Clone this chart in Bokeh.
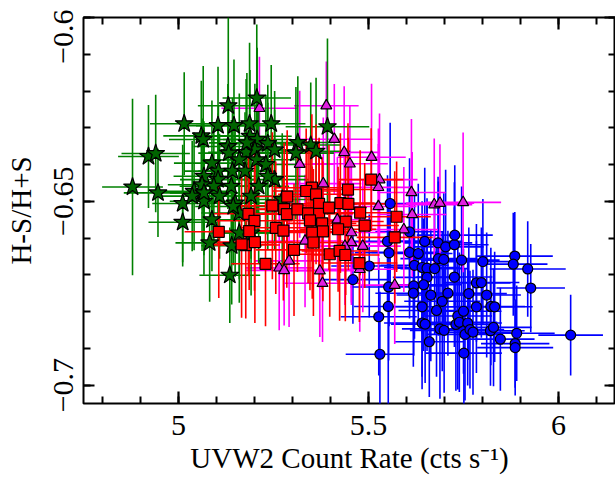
import math
from bokeh.plotting import figure
from bokeh.models import Range1d, FixedTicker, LinearAxis, ColumnDataSource
from bokeh.embed import file_html
from bokeh.resources import INLINE

# ---------------- data ----------------
green_x = [5.206, 5.131, 5.015, 5.104, 5.146, 5.187, 5.244, 5.060, 5.065, 5.130,
           5.188, 5.207, 5.235, 5.314, 5.348, 5.362, 5.392, 4.921, 4.940, 4.879,
           4.946, 5.011, 5.011, 5.041, 5.067, 5.088, 5.105, 5.067, 5.088, 5.082,
           5.135, 5.178, 5.201, 5.132, 5.104, 5.142, 5.175, 5.206, 5.230, 5.139,
           5.093, 5.149, 5.160, 5.191, 5.211, 5.253, 5.273, 5.191, 5.160, 5.144,
           5.062, 5.108, 5.235, 5.160, 5.036, 5.067, 5.180, 5.253, 5.309, 5.140]
green_y = [-0.6219, -0.6240, -0.6289, -0.6294, -0.6294, -0.6289, -0.6289, -0.6322, -0.6332, -0.6351,
           -0.6323, -0.6332, -0.6343, -0.6340, -0.6347, -0.6364, -0.6297, -0.6378, -0.6370, -0.6461,
           -0.6477, -0.6506, -0.6557, -0.6473, -0.6432, -0.6396, -0.6418, -0.6500, -0.6550, -0.6613,
           -0.6701, -0.6367, -0.6360, -0.6369, -0.6441, -0.6418, -0.6418, -0.6387, -0.6400, -0.6459,
           -0.6459, -0.6505, -0.6532, -0.6486, -0.6459, -0.6441, -0.6495, -0.6586, -0.6586, -0.6514,
           -0.6455, -0.6486, -0.6432, -0.6387, -0.6486, -0.6477, -0.6341, -0.6360, -0.6369, -0.6621]
green_xerr = [0.09, 0.08, 0.09, 0.08, 0.10, 0.08, 0.09, 0.10, 0.09, 0.09,
              0.11, 0.09, 0.10, 0.09, 0.08, 0.09, 0.11, 0.08, 0.09, 0.08,
              0.09, 0.08, 0.09, 0.10, 0.08, 0.10, 0.09, 0.09, 0.10, 0.09,
              0.08, 0.10, 0.09, 0.08, 0.10, 0.09, 0.08, 0.10, 0.09, 0.10,
              0.09, 0.08, 0.10, 0.09, 0.08, 0.09, 0.10, 0.09, 0.08, 0.10,
              0.09, 0.09, 0.10, 0.09, 0.08, 0.09, 0.10, 0.09, 0.10, 0.08]
green_yerr = [0.020, 0.024, 0.014, 0.016, 0.018, 0.022, 0.016, 0.015, 0.020, 0.017,
              0.018, 0.025, 0.016, 0.018, 0.017, 0.020, 0.024, 0.014, 0.016, 0.024,
              0.012, 0.016, 0.012, 0.016, 0.015, 0.017, 0.018, 0.020, 0.014, 0.016,
              0.013, 0.020, 0.018, 0.015, 0.018, 0.020, 0.016, 0.017, 0.019, 0.018,
              0.016, 0.020, 0.018, 0.017, 0.021, 0.019, 0.018, 0.017, 0.019, 0.016,
              0.018, 0.017, 0.020, 0.018, 0.015, 0.017, 0.019, 0.016, 0.018, 0.016]

magenta_x = [5.389, 5.410, 5.436, 5.451, 5.508, 5.529, 5.526, 5.526, 5.613, 5.673,
             5.688, 5.749, 5.615, 5.381, 5.319, 5.213, 5.265, 5.278, 5.372, 5.379,
             5.291, 5.477, 5.455, 5.455, 5.569, 5.333, 5.418, 5.485, 5.593, 5.438]
magenta_y = [-0.6240, -0.6331, -0.6367, -0.6398, -0.6380, -0.6441, -0.6462, -0.6514, -0.6476, -0.6509,
             -0.6505, -0.6503, -0.6536, -0.6452, -0.6399, -0.6247, -0.6681, -0.6688, -0.6689, -0.6723,
             -0.6662, -0.6685, -0.6585, -0.6612, -0.6728, -0.6608, -0.6550, -0.6622, -0.6577, -0.6622]
magenta_xerr = [0.085, 0.10, 0.09, 0.10, 0.09, 0.10, 0.09, 0.10, 0.09, 0.10,
                0.09, 0.10, 0.09, 0.10, 0.09, 0.10, 0.09, 0.10, 0.09, 0.10,
                0.09, 0.10, 0.09, 0.10, 0.09, 0.10, 0.09, 0.10, 0.09, 0.10]
magenta_yerr = [0.012, 0.015, 0.018, 0.016, 0.020, 0.018, 0.016, 0.017, 0.020, 0.018,
                0.016, 0.019, 0.017, 0.018, 0.020, 0.014, 0.017, 0.015, 0.018, 0.016,
                0.018, 0.017, 0.019, 0.017, 0.016, 0.018, 0.017, 0.018, 0.017, 0.016]

red_x = [5.507, 5.446, 5.351, 5.336, 5.362, 5.286, 5.247, 5.184, 5.200, 5.106,
         5.186, 5.177, 5.201, 5.229, 5.256, 5.276, 5.278, 5.285, 5.313, 5.341,
         5.370, 5.370, 5.396, 5.426, 5.447, 5.478, 5.346, 5.378, 5.440, 5.490,
         5.352, 5.380, 5.420, 5.355, 5.304, 5.398, 5.424, 5.439, 5.476, 5.574,
         5.569, 5.166]
red_y = [-0.6441, -0.6468, -0.6463, -0.6472, -0.6481, -0.6487, -0.6512, -0.6534, -0.6553, -0.6583,
         -0.6581, -0.6619, -0.6611, -0.6670, -0.6572, -0.6580, -0.6521, -0.6535, -0.6522, -0.6533,
         -0.6507, -0.6534, -0.6517, -0.6505, -0.6507, -0.6531, -0.6552, -0.6560, -0.6555, -0.6566,
         -0.6585, -0.6582, -0.6576, -0.6612, -0.6632, -0.6644, -0.6635, -0.6646, -0.6668, -0.6542,
         -0.6598, -0.6617]
red_xerr = [0.085, 0.09, 0.10, 0.09, 0.10, 0.09, 0.10, 0.09, 0.10, 0.09,
            0.10, 0.09, 0.10, 0.09, 0.10, 0.09, 0.10, 0.09, 0.10, 0.09,
            0.10, 0.09, 0.10, 0.09, 0.10, 0.09, 0.10, 0.09, 0.10, 0.09,
            0.10, 0.09, 0.10, 0.09, 0.10, 0.09, 0.10, 0.09, 0.10, 0.09,
            0.10, 0.09]
red_yerr = [0.014, 0.018, 0.020, 0.017, 0.019, 0.018, 0.020, 0.017, 0.019, 0.018,
            0.016, 0.020, 0.022, 0.017, 0.018, 0.019, 0.018, 0.020, 0.017, 0.019,
            0.018, 0.020, 0.017, 0.019, 0.018, 0.017, 0.019, 0.018, 0.020, 0.017,
            0.018, 0.019, 0.017, 0.020, 0.018, 0.017, 0.019, 0.018, 0.016, 0.015,
            0.018, 0.020]

blue_x = [5.557, 5.608, 5.550, 5.554, 5.608, 5.631, 5.648, 5.683, 5.703, 5.726,
          5.727, 5.621, 5.641, 5.654, 5.684, 5.698, 5.745, 5.801, 5.885, 5.881,
          5.919, 5.927, 5.726, 5.654, 5.645, 5.619, 5.618, 5.664, 5.694, 5.709,
          5.764, 5.784, 5.797, 5.811, 5.784, 5.822, 5.832, 5.641, 5.679, 5.735,
          5.750, 5.730, 5.739, 5.761, 5.641, 5.649, 5.688, 5.699, 5.754, 5.767,
          5.775, 5.821, 5.829, 5.847, 5.890, 5.886, 5.886, 6.032, 5.660, 5.751,
          5.530, 5.527, 5.552, 5.553, 5.459, 5.502, 5.674]
blue_y = [-0.6506, -0.6583, -0.6609, -0.6640, -0.6639, -0.6642, -0.6609, -0.6613, -0.6624, -0.6618,
          -0.6592, -0.6674, -0.6680, -0.6682, -0.6656, -0.6658, -0.6660, -0.6664, -0.6649, -0.6671,
          -0.6684, -0.6736, -0.6706, -0.6707, -0.6727, -0.6730, -0.6750, -0.6755, -0.6772, -0.6750,
          -0.6751, -0.6722, -0.6721, -0.6755, -0.6787, -0.6786, -0.6787, -0.6787, -0.6797, -0.6812,
          -0.6799, -0.6835, -0.6829, -0.6831, -0.6831, -0.6834, -0.6847, -0.6851, -0.6862, -0.6849,
          -0.6856, -0.6852, -0.6843, -0.6875, -0.6859, -0.6887, -0.6898, -0.6864, -0.6882, -0.6913,
          -0.6916, -0.6814, -0.6786, -0.6733, -0.6713, -0.6676, -0.6683]
blue_xerr = [0.10, 0.09, 0.10, 0.09, 0.10, 0.09, 0.10, 0.09, 0.10, 0.09,
             0.10, 0.09, 0.10, 0.09, 0.10, 0.09, 0.10, 0.09, 0.10, 0.09,
             0.10, 0.09, 0.10, 0.09, 0.10, 0.09, 0.10, 0.09, 0.10, 0.09,
             0.10, 0.09, 0.10, 0.09, 0.10, 0.09, 0.10, 0.09, 0.10, 0.09,
             0.10, 0.09, 0.10, 0.09, 0.10, 0.09, 0.10, 0.09, 0.10, 0.09,
             0.10, 0.09, 0.10, 0.09, 0.10, 0.09, 0.10, 0.085, 0.09, 0.10,
             0.09, 0.10, 0.09, 0.10, 0.09, 0.10, 0.09]
blue_yerr = [0.022, 0.020, 0.018, 0.020, 0.018, 0.019, 0.020, 0.018, 0.021, 0.017,
             0.019, 0.020, 0.018, 0.019, 0.021, 0.018, 0.020, 0.017, 0.012, 0.014,
             0.013, 0.012, 0.019, 0.020, 0.018, 0.019, 0.020, 0.018, 0.019, 0.017,
             0.018, 0.016, 0.015, 0.017, 0.018, 0.016, 0.015, 0.019, 0.018, 0.020,
             0.017, 0.018, 0.019, 0.017, 0.018, 0.016, 0.019, 0.017, 0.018, 0.016,
             0.017, 0.015, 0.016, 0.014, 0.013, 0.012, 0.013, 0.011, 0.015, 0.016,
             0.017, 0.016, 0.027, 0.020, 0.012, 0.014, 0.018]

x_major = [5.0, 5.5, 6.0]
x_minor = [4.8, 4.9, 5.0, 5.1, 5.2, 5.3, 5.4, 5.5, 5.6, 5.7, 5.8, 5.9, 6.0, 6.1]
y_major = [-0.7, -0.65, -0.6]
y_minor = [-0.70, -0.69, -0.68, -0.67, -0.66, -0.65, -0.64, -0.63, -0.62, -0.61, -0.60]
# label positions on the y axis (the top label is nudged down to stay inside the page)
y_label_pos = [-0.7, -0.65, -0.6052]
y_label_txt = ["\u22120.7", "\u22120.65", "\u22120.6"]

FONT = "Liberation Serif"

p = figure(width=615, height=489, output_backend="svg", toolbar_location=None,
           x_range=Range1d(4.75, 6.15), y_range=Range1d(-0.705, -0.6),
           min_border_left=83, min_border_right=0, min_border_top=17, min_border_bottom=86,
           x_axis_location=None, y_axis_location=None)
p.background_fill_color = "white"
p.border_fill_color = "white"
p.xgrid.visible = False
p.ygrid.visible = False
p.outline_line_color = "black"
p.outline_line_width = 2


def make_src(xs, ys, xe, ye):
    return ColumnDataSource(dict(
        x=xs, y=ys,
        xl=[a - e for a, e in zip(xs, xe)], xh=[a + e for a, e in zip(xs, xe)],
        yl=[a - e for a, e in zip(ys, ye)], yh=[a + e for a, e in zip(ys, ye)]))


series = [
    (make_src(blue_x, blue_y, blue_xerr, blue_yerr), "#0000ff", "circle", 10, "#0000ff"),
    (make_src(magenta_x, magenta_y, magenta_xerr, magenta_yerr), "#ff00ff", "triangle", 11, "#e020e0"),
    (make_src(green_x, green_y, green_xerr, green_yerr), "#008000", "star", 19, "#006400"),
    (make_src(red_x, red_y, red_xerr, red_yerr), "#ff0000", "square", 11, "#ff0000"),
]

for src, col, mk, sz, fill in series:
    p.segment(x0="xl", x1="xh", y0="y", y1="y", source=src, line_color=col, line_width=1.6)
    p.segment(x0="x", x1="x", y0="yl", y1="yh", source=src, line_color=col, line_width=1.6)

for src, col, mk, sz, fill in series:
    p.scatter(x="x", y="y", source=src, marker=mk, size=sz, fill_color=fill,
              line_color="black", line_width=1.2)


def tick_axis(ax, ticks, minor, major_len=12):
    ax.ticker = FixedTicker(ticks=ticks, minor_ticks=minor)
    ax.axis_line_color = None
    ax.major_tick_in = major_len
    ax.major_tick_out = 0
    ax.minor_tick_in = 7
    ax.minor_tick_out = 0
    ax.major_tick_line_width = 2.2
    ax.minor_tick_line_width = 2
    ax.major_tick_line_color = "black"
    ax.minor_tick_line_color = "black"
    ax.major_label_text_font_size = "0px"
    ax.major_label_standoff = 0


def text_axis(ax):
    ax.major_label_text_font = FONT
    ax.major_label_text_font_size = "30px"
    ax.major_label_text_color = "black"
    ax.axis_label_text_font = FONT
    ax.axis_label_text_font_size = "29px"
    ax.axis_label_text_font_style = "normal"
    ax.axis_label_text_color = "black"


# bottom axis: ticks + labels + title
xb = LinearAxis(axis_label="UVW2 Count Rate (cts s\u207b\u00b9)")
tick_axis(xb, x_major, x_minor)
text_axis(xb)
xb.major_label_standoff = 12
xb.axis_label_standoff = 4
p.add_layout(xb, "below")

# left: tick marks only (next to the frame)
yl_ticks = LinearAxis()
tick_axis(yl_ticks, y_major, y_minor, major_len=11)
p.add_layout(yl_ticks, "left")

# left: labels only + title
yl_text = LinearAxis(axis_label="H-S/H+S")
yl_text.ticker = FixedTicker(ticks=y_label_pos, minor_ticks=[])
yl_text.major_label_overrides = dict(zip(y_label_pos, y_label_txt))
text_axis(yl_text)
yl_text.axis_line_color = None
yl_text.major_tick_line_color = None
yl_text.minor_tick_line_color = None
yl_text.major_tick_in = 0
yl_text.major_tick_out = 0
yl_text.minor_tick_in = 0
yl_text.minor_tick_out = 0
yl_text.major_label_orientation = "vertical"
yl_text.major_label_standoff = 10
yl_text.axis_label_standoff = 15
p.add_layout(yl_text, "left")

xt = LinearAxis()
tick_axis(xt, x_major, x_minor)
p.add_layout(xt, "above")

yr = LinearAxis()
tick_axis(yr, y_major, y_minor, major_len=11)
p.add_layout(yr, "right")

open("out.html", "w").write(file_html(p, INLINE))
